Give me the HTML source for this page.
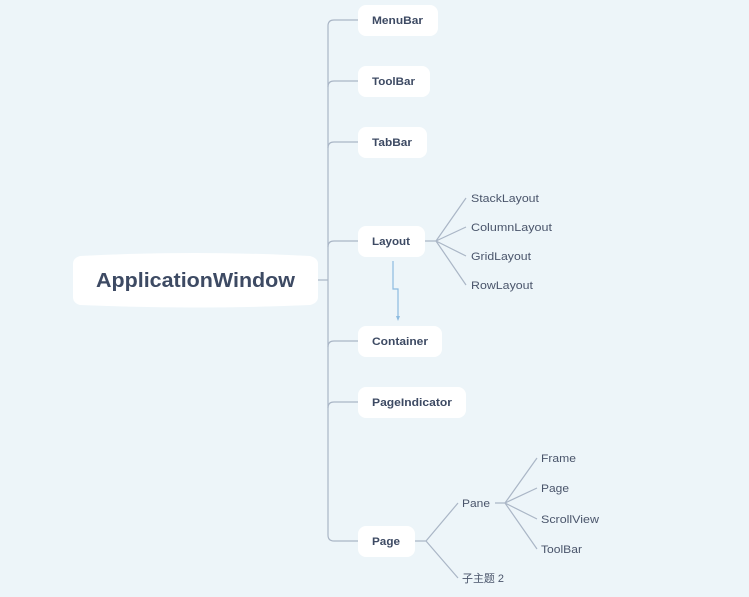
<!DOCTYPE html>
<html><head><meta charset="utf-8"><style>
html,body{margin:0;padding:0;background:#edf5f9;}
svg{display:block;}
text{font-family:"Liberation Sans","Noto Sans CJK SC",sans-serif;fill:#3d4a63;}
.b{font-weight:bold;font-size:11px;}
.s{font-size:11px;fill:#4a556b;}
</style></head><body>
<svg width="749" height="597" viewBox="0 0 749 597" xmlns="http://www.w3.org/2000/svg">
<g fill="none" stroke="#aab6c6" stroke-width="1.2">
<path d="M318 280 H328"/>
<path d="M358 20 H334 Q328 20 328 26 V535 Q328 541 334 541 H358"/>
<path d="M328 87 Q328 81 334 81 H358"/>
<path d="M328 148 Q328 142 334 142 H358"/>
<path d="M328 247 Q328 241 334 241 H358"/>
<path d="M328 347 Q328 341 334 341 H358"/>
<path d="M328 408 Q328 402 334 402 H358"/>
<path d="M425 241 H436 L466 198 M436 241 L466 227 M436 241 L466 256 M436 241 L466 285"/>
<path d="M415 541 H426 L458 503 M426 541 L458 578"/>
<path d="M495 503 H505 L537 458 M505 503 L537 488 M505 503 L537 519 M505 503 L537 549"/>
</g>
<path d="M393 261 V289 H398 V318" fill="none" stroke="#8dbbe0" stroke-width="1.2"/>
<path d="M396 316 L398 321 L400 316 Z" fill="#8dbbe0"/>
<g fill="#fff">
<path d="M80 256 Q195 250 310 256 Q318 258 318 264 V297 Q318 303 310 305 Q195 310 80 305 Q73 303 73 297 V264 Q73 258 80 256 Z"/>
<rect x="358" y="5" width="80" height="31" rx="8"/>
<rect x="358" y="66" width="72" height="31" rx="8"/>
<rect x="358" y="127" width="69" height="31" rx="8"/>
<rect x="358" y="226" width="67" height="31" rx="8"/>
<rect x="358" y="326" width="84" height="31" rx="8"/>
<rect x="358" y="387" width="108" height="31" rx="8"/>
<rect x="358" y="526" width="57" height="31" rx="8"/>
</g>
<text x="96" y="287" font-size="20" font-weight="bold" fill="#3d4a63" textLength="199" lengthAdjust="spacingAndGlyphs">ApplicationWindow</text>
<text class="b" x="372" y="24" textLength="51" lengthAdjust="spacingAndGlyphs">MenuBar</text>
<text class="b" x="372" y="85" textLength="43" lengthAdjust="spacingAndGlyphs">ToolBar</text>
<text class="b" x="372" y="146" textLength="40" lengthAdjust="spacingAndGlyphs">TabBar</text>
<text class="b" x="372" y="245" textLength="38" lengthAdjust="spacingAndGlyphs">Layout</text>
<text class="b" x="372" y="345" textLength="56" lengthAdjust="spacingAndGlyphs">Container</text>
<text class="b" x="372" y="406" textLength="80" lengthAdjust="spacingAndGlyphs">PageIndicator</text>
<text class="b" x="372" y="545" textLength="28" lengthAdjust="spacingAndGlyphs">Page</text>
<text class="s" x="471" y="202" textLength="68" lengthAdjust="spacingAndGlyphs">StackLayout</text>
<text class="s" x="471" y="231" textLength="81" lengthAdjust="spacingAndGlyphs">ColumnLayout</text>
<text class="s" x="471" y="260" textLength="60" lengthAdjust="spacingAndGlyphs">GridLayout</text>
<text class="s" x="471" y="289" textLength="62" lengthAdjust="spacingAndGlyphs">RowLayout</text>
<text class="s" x="462" y="507" textLength="28" lengthAdjust="spacingAndGlyphs">Pane</text>
<text class="s" x="462" y="582" textLength="42" lengthAdjust="spacingAndGlyphs">子主题 2</text>
<text class="s" x="541" y="462" textLength="35" lengthAdjust="spacingAndGlyphs">Frame</text>
<text class="s" x="541" y="492" textLength="28" lengthAdjust="spacingAndGlyphs">Page</text>
<text class="s" x="541" y="523" textLength="58" lengthAdjust="spacingAndGlyphs">ScrollView</text>
<text class="s" x="541" y="553" textLength="41" lengthAdjust="spacingAndGlyphs">ToolBar</text>
</svg>
</body></html>
